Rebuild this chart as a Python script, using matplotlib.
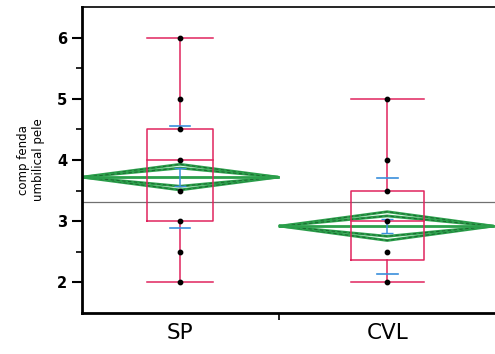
import numpy as np
import matplotlib
matplotlib.use('Agg')
import matplotlib.pyplot as plt

# data
groups = ['SP', 'CVL']
positions = [0.0, 1.0]
points = [[6, 5, 4.5, 4, 3.5, 3, 2.5, 2],
          [5, 4, 3.5, 3, 2.5, 2]]
q1 = [3.0, 2.37]
median = [4.0, 3.0]
q3 = [4.5, 3.5]
whisk_lo = [2.0, 2.0]
whisk_hi = [6.0, 5.0]
means = [3.72, 2.92]
ci_half = [0.21, 0.235]
se = [0.145, 0.12]
sd = [0.835, 0.78]
grand_mean = 3.31
# horizontal extent of each group's means diamond (axis units)
diamond_lo = [-0.473, 0.483]
diamond_hi = [0.473, 1.512]
box_half = [0.16, 0.176]

red = '#e0245e'
green = '#2ca04c'
blue = '#3a8fdc'

fig = plt.figure(figsize=(4.95, 3.54), dpi=100)
ax = fig.add_axes([0.1657, 0.1158, 0.8343, 0.8644])

ax.axhline(grand_mean, color='#707070', lw=0.9, zorder=1)

for i, x in enumerate(positions):
    bw = box_half[i]
    # box
    ax.plot([x - bw, x + bw, x + bw, x - bw, x - bw],
            [q1[i], q1[i], q3[i], q3[i], q1[i]], color=red, lw=1.1, zorder=3)
    ax.plot([x - bw, x + bw], [median[i]] * 2, color=red, lw=1.1, zorder=3)
    ax.plot([x, x], [whisk_lo[i], q1[i]], color=red, lw=1.1, zorder=3)
    ax.plot([x, x], [q3[i], whisk_hi[i]], color=red, lw=1.1, zorder=3)
    ax.plot([x - bw, x + bw], [whisk_lo[i]] * 2, color=red, lw=1.1, zorder=3)
    ax.plot([x - bw, x + bw], [whisk_hi[i]] * 2, color=red, lw=1.1, zorder=3)

    # means diamond with overlap marks
    lo, hi = diamond_lo[i], diamond_hi[i]
    m = means[i]
    h = ci_half[i]
    for k in (1.0, 1 / np.sqrt(2)):
        ax.plot([lo, x, hi, x, lo], [m, m + h * k, m, m - h * k, m],
                color=green, lw=2.0, zorder=2)
        ax.plot([lo, x, hi, x, lo], [m, m + h * k, m, m - h * k, m],
                color='#1a5e2c', lw=0.6, ls=(0, (4, 3)), zorder=2)
    ax.plot([lo, hi], [m, m], color=green, lw=2.0, zorder=2)

    # mean error bar and std dev lines
    ax.errorbar(x, m, yerr=se[i], color=blue, lw=1.1, capsize=4, zorder=4)
    ax.plot([x - 0.05, x + 0.05], [m + sd[i]] * 2, color=blue, lw=1.2, zorder=4)
    ax.plot([x - 0.05, x + 0.05], [m - sd[i]] * 2, color=blue, lw=1.2, zorder=4)

    ax.scatter([x] * len(points[i]), points[i], s=10, color='black', zorder=5)

ax.set_xlim(-0.473, 1.52)
ax.set_ylim(1.5, 6.5)
ax.set_yticks([2, 3, 4, 5, 6])
ax.set_yticks([2.5, 3.5, 4.5, 5.5], minor=True)
ax.tick_params(axis='y', which='major', length=7, width=1.5, labelsize=10.5)
ax.tick_params(axis='y', which='minor', length=4, width=1.2)
for lbl in ax.get_yticklabels():
    lbl.set_fontweight('bold')

ax.set_xticks([0.478])
ax.set_xticklabels([''])
ax.tick_params(axis='x', length=5, width=1.2)
for x, g in zip(positions, groups):
    ax.text(x, -0.065, g, transform=ax.get_xaxis_transform(), ha='center',
            va='center', fontsize=15.5)

ax.set_ylabel('comp fenda\numbilical pele', fontsize=8.5, labelpad=9)

ax.spines['left'].set_linewidth(2)
ax.spines['bottom'].set_linewidth(2)
ax.spines['top'].set_linewidth(1.2)
ax.spines['right'].set_visible(False)

fig.savefig('out.png', dpi=100)
